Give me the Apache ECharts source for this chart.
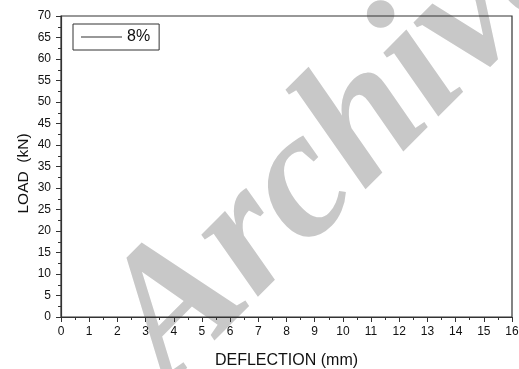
<!DOCTYPE html>
<html>
<head>
<meta charset="utf-8">
<script src="https://cdn.jsdelivr.net/npm/echarts@6/dist/echarts.min.js"></script>
<style>
  html, body { margin: 0; padding: 0; background: #fff; }
  #chart { width: 519px; height: 369px; }
</style>
</head>
<body>
<div id="chart"></div>
<script>
// Load–deflection record for the 8% specimen (no points recorded)
const seriesName = '8%';
const deflection = [];
const load = [];

// Axis ranges and tick spacing
const xRange = [0, 16];
const xStep = 1;
const yRange = [0, 70];
const yStep = 5;

const xTitle = 'DEFLECTION (mm)';
const yTitle = 'LOAD  (kN)';
const stamp = 'Archive';

const points = deflection.map((d, i) => [d, load[i]]);

const axisColor = '#333';
const font = '"Liberation Sans", Arial, sans-serif';

const chart = echarts.init(document.getElementById('chart'), null, { renderer: 'canvas' });

chart.setOption({
  animation: false,
  backgroundColor: '#fff',
  grid: {
    left: 61, right: 7, top: 16, bottom: 52,
    containLabel: false, outerBoundsMode: 'none',
    show: true, borderColor: axisColor, borderWidth: 1.2, backgroundColor: 'transparent'
  },
  legend: {
    left: 73, top: 24,
    orient: 'vertical',
    padding: [5, 9, 5, 8],
    borderColor: axisColor, borderWidth: 1, borderRadius: 0,
    icon: 'rect',
    itemWidth: 41, itemHeight: 1.2, itemGap: 5,
    textStyle: { fontFamily: font, fontSize: 16, color: '#111', padding: [0, 0, 0, 0] },
    data: [{ name: seriesName, itemStyle: { color: '#333' } }]
  },
  xAxis: {
    type: 'value', min: xRange[0], max: xRange[1], interval: xStep,
    name: xTitle, nameLocation: 'middle', nameGap: 36,
    nameTextStyle: { fontFamily: font, fontSize: 16, color: '#111' },
    axisLine: { show: true, onZero: false, lineStyle: { color: axisColor, width: 1.2 } },
    axisTick: { show: true, inside: false, length: 5, lineStyle: { color: axisColor } },
    minorTick: { show: true, splitNumber: 2, length: 3, lineStyle: { color: axisColor } },
    axisLabel: { fontFamily: font, fontSize: 12, color: '#111', margin: 9 },
    splitLine: { show: false }
  },
  yAxis: {
    type: 'value', min: yRange[0], max: yRange[1], interval: yStep,
    name: yTitle, nameLocation: 'middle', nameGap: 29.5, nameRotate: 90,
    nameMoveOverlap: false,
    nameTextStyle: { fontFamily: font, fontSize: 15.5, color: '#111', padding: [0, 14, 0, 0] },
    axisLine: { show: true, onZero: false, lineStyle: { color: axisColor, width: 1.2 } },
    axisTick: { show: true, inside: false, length: 5, lineStyle: { color: axisColor } },
    minorTick: { show: true, splitNumber: 2, length: 3, lineStyle: { color: axisColor } },
    axisLabel: { fontFamily: font, fontSize: 12, color: '#111', margin: 10 },
    splitLine: { show: false }
  },
  graphic: [{
    type: 'text',
    z: -10,
    silent: true,
    x: 344, y: 144,
    rotation: 45 * Math.PI / 180,
    style: {
      text: stamp,
      font: 'italic bold 183px "Liberation Serif", "DejaVu Serif", serif',
      fill: '#c8c8c8',
      textAlign: 'center',
      textVerticalAlign: 'middle'
    }
  }],
  series: [{
    name: seriesName,
    type: 'line',
    data: points,
    symbol: 'none',
    lineStyle: { color: '#333', width: 1 },
    itemStyle: { color: '#333' }
  }]
});
</script>
</body>
</html>
